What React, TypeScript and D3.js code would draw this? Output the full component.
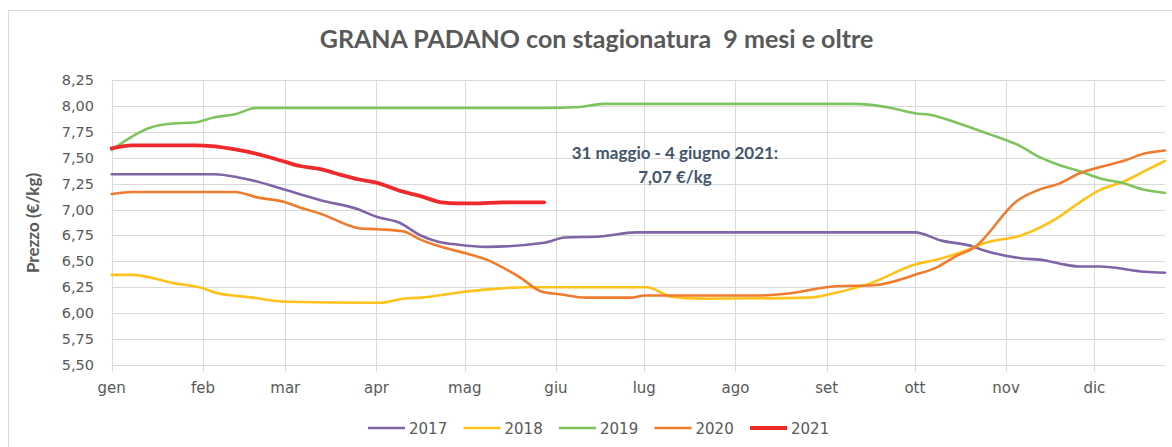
import * as d3 from 'd3'

const monthLabels = ['gen', 'feb', 'mar', 'apr', 'mag', 'giu', 'lug', 'ago', 'set', 'ott', 'nov', 'dic']
const yTickValues = [5.5, 5.75, 6.0, 6.25, 6.5, 6.75, 7.0, 7.25, 7.5, 7.75, 8.0, 8.25]

const dates2017 = ['01-01', '02-05', '02-13', '02-18', '03-01', '03-13', '03-26', '04-01', '04-09', '04-16', '04-22', '04-29', '05-08', '05-28', '06-04', '06-16', '06-28', '10-01', '10-10', '10-20', '10-24', '11-06', '11-14', '11-19', '11-26', '12-03', '12-18', '12-25']
const values2017 = [7.34, 7.34, 7.31, 7.28, 7.19, 7.09, 7.0, 6.93, 6.87, 6.75, 6.69, 6.66, 6.64, 6.68, 6.73, 6.74, 6.78, 6.78, 6.7, 6.65, 6.61, 6.53, 6.51, 6.48, 6.45, 6.45, 6.4, 6.39]

const dates2018 = ['01-01', '01-08', '01-22', '02-01', '02-05', '02-18', '03-01', '04-02', '04-10', '04-16', '04-29', '05-09', '05-22', '07-02', '07-10', '07-20', '08-26', '09-03', '09-16', '10-01', '10-09', '10-17', '10-25', '11-06', '11-19', '11-26', '12-03', '12-11', '12-18', '12-25']
const values2018 = [6.37, 6.37, 6.29, 6.24, 6.2, 6.15, 6.11, 6.1, 6.14, 6.15, 6.2, 6.23, 6.25, 6.25, 6.16, 6.14, 6.15, 6.19, 6.29, 6.47, 6.52, 6.59, 6.68, 6.75, 6.93, 7.07, 7.19, 7.27, 7.37, 7.47]

const dates2019 = ['01-01', '01-14', '01-22', '01-29', '02-05', '02-12', '02-19', '05-28', '06-09', '06-17', '09-10', '09-16', '09-23', '10-01', '10-07', '10-14', '10-25', '11-06', '11-12', '11-19', '11-26', '12-03', '12-10', '12-18', '12-25']
const values2019 = [7.575, 7.79, 7.83, 7.84, 7.89, 7.92, 7.98, 7.98, 7.99, 8.02, 8.02, 8.01, 7.98, 7.93, 7.91, 7.85, 7.74, 7.61, 7.51, 7.43, 7.37, 7.3, 7.26, 7.19, 7.16]

const dates2020 = ['01-01', '01-08', '02-12', '02-19', '03-01', '03-06', '03-13', '03-26', '04-01', '04-10', '04-16', '04-23', '05-01', '05-09', '05-14', '05-20', '05-27', '06-03', '06-11', '06-27', '07-01', '08-08', '08-19', '09-04', '09-17', '10-01', '10-09', '10-15', '10-21', '11-05', '11-12', '11-19', '11-26', '12-03', '12-11', '12-18', '12-25']
const values2020 = [7.15, 7.17, 7.17, 7.12, 7.07, 7.02, 6.96, 6.82, 6.81, 6.79, 6.71, 6.64, 6.58, 6.51, 6.44, 6.34, 6.21, 6.18, 6.15, 6.15, 6.17, 6.17, 6.19, 6.26, 6.27, 6.37, 6.45, 6.55, 6.63, 7.09, 7.19, 7.25, 7.35, 7.41, 7.47, 7.54, 7.57]

const dates2021 = ['01-01', '01-08', '01-29', '02-05', '02-12', '02-19', '03-01', '03-06', '03-13', '03-18', '03-26', '04-01', '04-09', '04-16', '04-23', '04-29', '05-04', '05-14', '05-28']
const values2021 = [7.59, 7.62, 7.62, 7.61, 7.58, 7.54, 7.46, 7.42, 7.39, 7.35, 7.29, 7.26, 7.18, 7.13, 7.07, 7.06, 7.06, 7.07, 7.07]

const series = [
  { name: '2017', dates: dates2017, values: values2017, color: '#8064a8', width: 2.6 },
  { name: '2018', dates: dates2018, values: values2018, color: '#ffc21a', width: 2.6 },
  { name: '2019', dates: dates2019, values: values2019, color: '#7fc35f', width: 2.6 },
  { name: '2020', dates: dates2020, values: values2020, color: '#ef7c2e', width: 2.6 },
  { name: '2021', dates: dates2021, values: values2021, color: '#ee2a2a', width: 3.8 },
]

const parseDay = (md: string) => new Date(`2021-${md}T00:00:00`)

export default function App() {
  const left = 111.7
  const right = 1165
  const top = 80
  const bottom = 365

  const x = d3.scaleTime().domain([parseDay('01-01'), parseDay('12-25')]).range([left, right])
  const y = d3.scaleLinear().domain([5.5, 8.25]).range([bottom, top])
  const fmt = (v: number) => d3.format('.2f')(v).replace('.', ',')

  const line = d3.line<[Date, number]>()
    .x(d => x(d[0]))
    .y(d => y(d[1]))
    .curve(d3.curveMonotoneX)

  const monthStarts = monthLabels.map((_, i) => new Date(2021, i, 1))
  const textColor = '#595959'

  return (
    <svg width={1172} height={447} style={{ position: 'absolute', left: 0, top: 0, background: '#fff' }}>
      <rect x={8.5} y={10.5} width={1170} height={450} fill="#fff" stroke="#d9d9d9" />

      <text x={596.5} y={48} textAnchor="middle" fontFamily="Lato" fontWeight="bold" fontSize={25} fill={textColor} style={{ whiteSpace: 'pre' }}>
        GRANA PADANO con stagionatura  9 mesi e oltre
      </text>

      {/* grid */}
      {yTickValues.map(v => (
        <line key={v} x1={left} x2={right} y1={Math.round(y(v)) + 0.5} y2={Math.round(y(v)) + 0.5} stroke="#d9d9d9" strokeWidth={1} />
      ))}
      {monthStarts.map((d, i) => (
        <line key={i} x1={Math.round(x(d)) + 0.5} x2={Math.round(x(d)) + 0.5} y1={top} y2={bottom + 7} stroke="#d9d9d9" strokeWidth={1} />
      ))}

      {/* y labels */}
      {yTickValues.map(v => (
        <text key={v} x={94} y={y(v) + 5} textAnchor="end" fontFamily="DejaVu Sans" fontSize={14.5} fill={textColor}>{fmt(v)}</text>
      ))}
      <text transform={`translate(39,223) rotate(-90)`} textAnchor="middle" fontFamily="Lato" fontWeight="bold" fontSize={17} fill={textColor}>
        Prezzo (€/kg)
      </text>

      {/* x labels */}
      {monthStarts.map((d, i) => (
        <text key={i} x={x(d)} y={393} textAnchor="middle" fontFamily="DejaVu Sans" fontSize={15} fill={textColor}>{monthLabels[i]}</text>
      ))}

      {/* lines */}
      {series.map(s => (
        <path
          key={s.name}
          d={line(s.dates.map((md, i) => [parseDay(md), s.values[i]] as [Date, number])) || ''}
          fill="none"
          stroke={s.color}
          strokeWidth={s.width}
          strokeLinejoin="round"
          strokeLinecap="round"
        />
      ))}

      {/* annotation */}
      <text x={675} y={159} textAnchor="middle" fontFamily="Lato" fontWeight="bold" fontSize={17} fill="#44546a">
        31 maggio - 4 giugno 2021:
      </text>
      <text x={675} y={183} textAnchor="middle" fontFamily="Lato" fontWeight="bold" fontSize={17} fill="#44546a">
        7,07 €/kg
      </text>

      {/* legend */}
      {series.map((s, i) => (
        <g key={s.name} transform={`translate(${368 + i * 95.5},428)`}>
          <line x1={0} x2={37} y1={0} y2={0} stroke={s.color} strokeWidth={s.width} />
          <text x={41} y={5.5} fontFamily="DejaVu Sans" fontSize={15} fill={textColor}>{s.name}</text>
        </g>
      ))}
    </svg>
  )
}
